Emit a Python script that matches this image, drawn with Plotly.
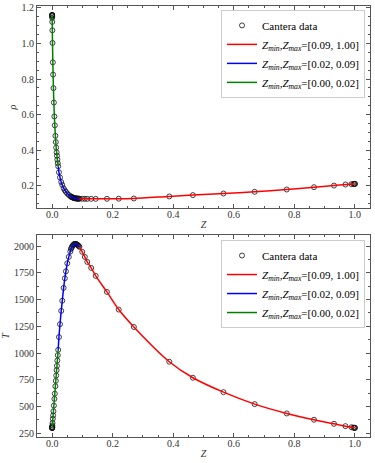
import plotly.graph_objects as go

# ---------------- data ----------------
Z = [0.0, 0.0, 0.0, 0.00002, 0.00005, 0.0001, 0.00027, 0.00063, 0.00123, 0.00233,
     0.0032, 0.0043, 0.0057, 0.0074, 0.0088, 0.0107, 0.0121, 0.0134, 0.0148, 0.0159,
     0.0173, 0.0186, 0.0200,
     0.0225, 0.026, 0.030, 0.0335, 0.038, 0.042, 0.0455, 0.050, 0.055, 0.060,
     0.062, 0.064, 0.066, 0.068, 0.070, 0.072, 0.074, 0.076, 0.078, 0.080,
     0.082, 0.084, 0.086, 0.088, 0.090,
     0.0995, 0.108, 0.116, 0.129, 0.144, 0.181, 0.220, 0.270, 0.387, 0.465,
     0.566, 0.669, 0.775, 0.865, 0.931, 0.969, 0.989, 0.995, 0.998, 1.0, 1.0]

T = [300, 300, 300, 301, 302, 304, 310, 323, 345, 385,
     416, 456, 508, 571, 620, 690, 740, 790, 840, 880,
     930, 980, 1030,
     1150, 1270, 1395, 1490, 1610, 1700, 1765, 1840, 1900, 1950,
     1973, 1986, 1997, 2006, 2013, 2018, 2021, 2022, 2021, 2019,
     2016, 2012, 2007, 2001, 1994,
     1947, 1900, 1853, 1797, 1722, 1572, 1407, 1244, 919, 769,
     634, 522, 435, 376, 338, 316, 306, 302, 301, 300, 300]

RHO = [1.160, 1.160, 1.160, 1.156, 1.152, 1.144, 1.121, 1.074, 1.003, 0.894,
       0.825, 0.749, 0.668, 0.590, 0.540, 0.481, 0.446, 0.415, 0.388, 0.369,
       0.347, 0.3275, 0.310,
       0.276, 0.247, 0.2215, 0.205, 0.1865, 0.1745, 0.166, 0.157, 0.149, 0.142,
       0.1395, 0.1375, 0.136, 0.1345, 0.1332, 0.132, 0.131, 0.1302, 0.1296, 0.129,
       0.1286, 0.1283, 0.128, 0.1278, 0.1276,
       0.1274, 0.1272, 0.1271, 0.127, 0.127, 0.1272, 0.1278, 0.129, 0.1405, 0.148,
       0.157, 0.1665, 0.1795, 0.1925, 0.2015, 0.2075, 0.2095, 0.2103, 0.2107, 0.211, 0.211]

RANGES = [(0.09, 1.00), (0.02, 0.09), (0.00, 0.02)]
RANGE_COLORS = ["#ff0000", "#0000ff", "#008000"]
DATA_LABEL = "Cantera data"

FONT = "Liberation Serif, Times New Roman, serif"
AXC = "#555555"


def range_label(lo, hi):
    return ("<i>Z</i><sub><i>min</i></sub>,<i>Z</i><sub><i>max</i></sub>"
            "=[%.2f, %.2f]" % (lo, hi))


def segment(lo, hi, yvals):
    xs, ys = [], []
    for z, v in zip(Z, yvals):
        if lo - 1e-9 <= z <= hi + 1e-9:
            if xs and z == xs[-1]:
                continue
            xs.append(z)
            ys.append(v)
    return xs, ys


fig = go.Figure()

for yvals, xa, ya, lg in [(RHO, "x", "y", "legend"), (T, "x2", "y2", "legend2")]:
    fig.add_trace(go.Scatter(
        x=Z, y=yvals, mode="markers", name=DATA_LABEL,
        marker=dict(symbol="circle-open", size=5, color="#111111",
                    line=dict(width=0.8, color="#111111")),
        xaxis=xa, yaxis=ya, legend=lg))
    for (lo, hi), col in zip(RANGES, RANGE_COLORS):
        xs, ys = segment(lo, hi, yvals)
        fig.add_trace(go.Scatter(
            x=xs, y=ys, mode="lines", name=range_label(lo, hi),
            line=dict(color=col, width=1.5, shape="spline", smoothing=0.8),
            xaxis=xa, yaxis=ya, legend=lg))

axis_common = dict(
    showline=True, linecolor=AXC, linewidth=1, mirror="allticks",
    ticks="inside", ticklen=4, tickwidth=0.8, tickcolor=AXC,
    showgrid=False, zeroline=False, automargin=False,
    tickfont=dict(family=FONT, size=10, color="#333333"),
)

minor_common = dict(ticks="inside", ticklen=2, tickwidth=0.8,
                    tickcolor=AXC, showgrid=False)

xaxis_common = dict(axis_common, range=[-0.05, 1.05],
                    tickmode="linear", tick0=0, dtick=0.2, tickformat=".1f",
                    ticklabelstandoff=-3,
                    minor=dict(minor_common, dtick=0.05, tick0=0))

title_font = dict(family=FONT, size=10, color="#333333")

legend_common = dict(xanchor="right", yanchor="top",
                     bgcolor="white", bordercolor="#cccccc", borderwidth=1,
                     font=dict(family=FONT, size=11, color="black"),
                     tracegroupgap=0, itemwidth=30)

fig.update_layout(
    template="none",
    width=375, height=463,
    margin=dict(l=37, r=5, t=6, b=26),
    paper_bgcolor="white", plot_bgcolor="white",
    font=dict(family=FONT, size=10, color="#333333"),
    showlegend=True,
    xaxis=dict(xaxis_common, domain=[0, 1], anchor="y",
               title=dict(text="<i>Z</i>", standoff=1, font=title_font)),
    yaxis=dict(axis_common, domain=[0.5313, 1.0], anchor="x",
               range=[0.0755, 1.2105],
               tickmode="linear", tick0=0.2, dtick=0.2, tickformat=".1f",
               minor=dict(minor_common, dtick=0.05, tick0=0),
               title=dict(text="<i>ρ</i>", standoff=2, font=title_font)),
    xaxis2=dict(xaxis_common, domain=[0, 1], anchor="y2",
                title=dict(text="<i>Z</i>", standoff=1, font=title_font)),
    yaxis2=dict(axis_common, domain=[0.0, 0.4687], anchor="x2",
                range=[214.5, 2105],
                tickmode="linear", tick0=250, dtick=250, tickformat="d",
                minor=dict(minor_common, dtick=125, tick0=0),
                title=dict(text="<i>T</i>", standoff=2, font=title_font)),
    legend=dict(legend_common, x=0.985, y=0.991),
    legend2=dict(legend_common, x=0.985, y=0.457),
)

fig.write_html(
    "out.html",
    config={"displayModeBar": False},
    post_script="document.body.style.margin='0';document.body.style.padding='0';",
)
